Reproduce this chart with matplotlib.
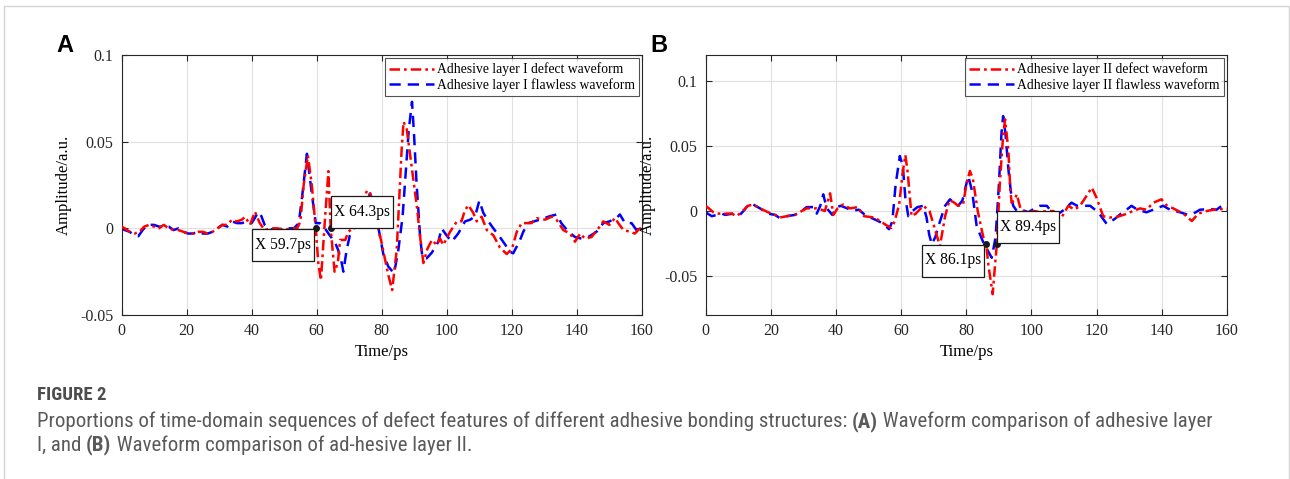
import matplotlib
matplotlib.use("Agg")
import matplotlib.pyplot as plt
from matplotlib import font_manager as fm
from matplotlib import transforms as mtransforms
from matplotlib.patches import Rectangle

# ---------------- data ----------------
tA_def = [0, 1, 2.5, 4, 5.5, 7, 8.5, 10, 11.5, 13, 14.5, 16, 17.5, 19, 20.5, 22, 23.5, 25, 26.5, 28,
          29.5, 31, 32.5, 34, 35.5, 37, 38, 39.5, 41, 42.5, 44, 46, 48, 50, 52, 54, 55, 56, 57.3, 58.5,
          59.7, 60.5, 61.3, 62.5, 63.6, 64.3, 65.5, 66.5, 67.2, 68.8, 69.7, 71.1, 73.6, 75.5, 76.5,
          78.1, 80, 81.9, 83.2, 84.6, 85.4, 86.1, 86.7, 87.7, 89.2, 90.8, 91.8, 92.8, 94, 95.4, 96.9,
          97.9, 98.9, 101, 103, 104.5, 105.5, 106.6, 108.1, 109.2, 110.7, 112.3, 114.3, 116.3, 118.4,
          120, 121.5, 123, 126, 127.6, 130.2, 132.2, 133.7, 135.8, 137.9, 139.4, 141, 142.5, 144.5,
          146.6, 148.1, 150, 151.7, 152.7, 154.3, 156.4, 157.8, 159.4, 160]
aA_def = [0.001, 0.0, -0.002, -0.003, -0.002, 0.001, 0.002, 0.001, 0.0, 0.002, 0.0, -0.001, -0.001,
          -0.002, -0.003, -0.003, -0.002, -0.002, -0.003, -0.002, 0.0, 0.002, 0.002, 0.005, 0.004,
          0.005, 0.0067, 0.002, 0.0096, 0.003, -0.001, 0.0, 0.0, -0.001, 0.0, 0.0, 0.004, 0.025, 0.042,
          0.025, 0.0, -0.02, -0.030, 0.004, 0.033, 0.0, -0.025, -0.02, -0.0067, -0.0067, -0.002, 0.0,
          0.0125, 0.022, 0.020, 0.0067, -0.0087, -0.026, -0.0356, -0.0125, 0.018, 0.045, 0.0615, 0.057,
          0.0355, 0.0125, -0.005, -0.020, -0.012, -0.0067, -0.0096, -0.0058, -0.0096, -0.002, 0.0037,
          0.004, 0.010, 0.0134, 0.009, 0.004, 0.0067, -0.001, -0.004, -0.011, -0.0148, -0.012, -0.002,
          0.003, 0.003, 0.0058, 0.005, 0.0067, 0.005, -0.001, -0.003, -0.0077, -0.003, -0.006, -0.005,
          0.0, 0.004, 0.002, 0.006, 0.003, -0.001, -0.002, -0.003, 0.0, -0.001]

tA_ok = [0, 1, 2.5, 4, 5.2, 6.5, 8, 10, 11.5, 13, 14.5, 16, 17.5, 19, 20.5, 22, 23.5, 25, 26.5, 28,
         29.5, 31, 32.5, 34, 35.5, 37, 38.5, 40, 41, 42, 43, 44, 45, 47, 50, 53, 54.5, 55.5, 57, 58.5,
         59.7, 61, 62.5, 64, 65.6, 66.6, 67.7, 68.2, 69.2, 70.2, 72.3, 74, 76.4, 77.5, 79, 80.5, 82,
         83.8, 85.1, 86.4, 88.3, 89.3, 89.9, 90.7, 91.8, 92.5, 93.8, 95.4, 97.4, 98.4, 99.9, 101.5,
         103.5, 105.6, 107.2, 108.7, 110, 111.2, 112.8, 114.3, 116.3, 117.8, 119.4, 120.4, 122.3,
         123.5, 125, 128.6, 131.7, 133.8, 135.2, 137.4, 139.4, 141.5, 143.5, 146, 148.1, 150, 152.2,
         153.2, 154.8, 156.8, 158.3, 160]
aA_ok = [0.0, -0.001, -0.002, -0.004, -0.0045, -0.001, 0.002, 0.002, 0.001, 0.001, 0.001, -0.001, 0.0,
         -0.002, -0.003, -0.003, -0.002, -0.003, -0.003, -0.002, 0.0, 0.002, 0.001, 0.004, 0.003, 0.003,
         0.004, 0.003, 0.006, 0.0095, 0.007, 0.002, 0.0, -0.001, 0.0, 0.0, 0.003, 0.018, 0.043, 0.02,
         0.003, 0.003, 0.0, -0.004, -0.008, -0.0125, -0.020, -0.025, -0.0125, -0.004, 0.003, 0.011,
         0.020, 0.015, 0.0, -0.015, -0.022, -0.026, -0.0125, 0.0067, 0.0567, 0.073, 0.055, 0.026,
         -0.005, -0.017, -0.0173, -0.014, -0.0077, 0.0, -0.004, -0.0077, -0.003, 0.004, 0.005, 0.007,
         0.016, 0.009, 0.004, 0.0, -0.005, -0.009, -0.0135, -0.0144, -0.0077, -0.002, 0.003, 0.005,
         0.007, 0.008, 0.003, -0.002, -0.005, -0.006, -0.005, -0.002, 0.003, 0.004, 0.006, 0.008, 0.003,
         0.003, -0.001, 0.0]

tB_def = [0, 1, 2.4, 4, 6, 8, 9.5, 11, 13, 14.6, 16.7, 19.2, 21.3, 22.8, 24.9, 27.4, 29.5, 31, 33,
          34.1, 35.5, 36.6, 38.2, 39.2, 40.5, 42.2, 44.3, 46.7, 48.6, 51.8, 53.7, 55.5, 57, 58, 59.4,
          60.5, 61.3, 62, 63.2, 64.5, 66.8, 68.7, 70.5, 71.9, 73.5, 74.8, 76, 77.5, 79, 80, 81.1, 82,
          83.5, 85.2, 86.1, 86.8, 88.1, 88.8, 89.4, 90.3, 91.3, 91.9, 92.9, 93.5, 93.9, 94.7, 95.5, 96.5,
          97.1, 99, 101, 102.6, 104.7, 106.7, 109.3, 111.3, 113.2, 114.9, 117, 118.5, 120, 122, 124.1,
          126.1, 128.7, 131.2, 133.3, 135.3, 137.4, 139.9, 141.6, 143.5, 146.6, 149.2, 151.2, 153.8,
          155.8, 158.4, 160]
aB_def = [0.004, 0.002, -0.001, -0.002, -0.002, -0.002, -0.004, -0.001, 0.004, 0.005, 0.002, -0.001,
          -0.003, -0.005, -0.004, -0.003, 0.0, 0.002, 0.002, 0.002, 0.001, 0.0, 0.0136, -0.003, 0.002,
          0.005, 0.002, 0.003, -0.004, -0.005, -0.008, -0.011, -0.013, -0.008, 0.005, 0.03, 0.043, 0.03,
          -0.004, -0.002, 0.004, 0.0, -0.015, -0.027, -0.004, 0.008, 0.007, 0.004, 0.005, 0.02, 0.0308,
          0.025, 0.0, -0.020, -0.025, -0.042, -0.064, -0.042, -0.025, 0.022, 0.058, 0.0705, 0.047,
          0.017, 0.0064, 0.008, 0.0128, 0.003, 0.0, -0.001, 0.0, -0.001, 0.0, 0.0, -0.0046, 0.004,
          0.001, 0.004, 0.012, 0.018, 0.01, -0.004, -0.005, -0.0046, -0.0026, 0.0, 0.002, 0.001, 0.0064,
          0.009, 0.004, 0.002, -0.002, -0.0077, -0.002, 0.0, 0.001, 0.0015, 0.002]

tB_ok = [0, 1.9, 3.5, 5, 6, 8.5, 10.5, 12, 13.1, 14.6, 16.7, 19.2, 21.3, 22.8, 24.9, 27.4, 29.5, 31,
         33.1, 34.1, 35.2, 36.1, 37.2, 38.9, 40.2, 41.5, 43.5, 45, 47, 49.4, 51.5, 54, 56.3, 57.3, 58.3,
         59.6, 60.5, 61.3, 62.2, 63.5, 65, 66.8, 67.8, 68.6, 69.4, 70.5, 71.4, 73.5, 75, 76.3, 77.5,
         78.8, 80.6, 81.8, 83.2, 85.2, 86.5, 87.8, 89, 90, 90.8, 91.3, 92, 93, 93.9, 94.4, 95.5, 97, 99,
         101, 102.6, 104.7, 106, 107.7, 109.5, 112.3, 114, 118, 120.5, 123.1, 125.6, 127.5, 129.2,
         130.7, 132.5, 135.3, 137.9, 140.4, 142.5, 145.6, 148.1, 149.7, 151.7, 154.8, 156.8, 158.4, 160]
aB_ok = [-0.001, -0.004, -0.003, -0.002, -0.003, -0.002, -0.003, 0.001, 0.005, 0.005, 0.002, -0.002,
         -0.003, -0.0055, -0.004, -0.003, 0.0, 0.003, 0.003, -0.002, 0.004, 0.0128, 0.002, -0.003,
         0.003, 0.004, 0.002, 0.0, 0.001, -0.004, -0.006, -0.009, -0.014, -0.008, 0.02, 0.0423, 0.035,
         0.01, -0.004, 0.0, 0.003, 0.004, -0.005, -0.018, -0.0256, -0.02, -0.012, 0.004, 0.009, 0.006,
         0.004, 0.008, 0.027, 0.015, -0.012, -0.024, -0.03, -0.036, -0.02, 0.02, 0.06, 0.073, 0.06, 0.03,
         0.01, 0.004, 0.0, 0.001, -0.001, 0.002, 0.004, 0.004, 0.0, -0.003, 0.0, 0.0064, 0.004, 0.004,
         -0.001, -0.010, -0.006, -0.002, 0.001, 0.004, 0.001, -0.001, 0.0015, 0.004, 0.001, -0.001,
         -0.003, -0.002, 0.001, 0.0015, 0.001, 0.004, 0.001]

xticks = [0, 20, 40, 60, 80, 100, 120, 140, 160]
yticksA = [-0.05, 0, 0.05, 0.1]
yticksB = [-0.05, 0, 0.05, 0.1]
ytlA = ["-0.05", "0", "0.05", "0.1"]
ytlB = ["-0.05", "0", "0.05", "0.1"]
legA = ["Adhesive layer I defect waveform", "Adhesive layer I flawless waveform"]
legB = ["Adhesive layer II defect waveform", "Adhesive layer II flawless waveform"]
tipsA = [(59.7, 0.0, "X 59.7ps", "left"), (64.3, 0.0, "X 64.3ps", "right")]
tipsB = [(86.1, -0.025, "X 86.1ps", "left"), (89.4, -0.025, "X 89.4ps", "right")]

# ---------------- style ----------------
plt.rcParams['axes.unicode_minus'] = False
SERIF = 'Liberation Serif'
W, H = 1290, 479
DPI = 100
fig = plt.figure(figsize=(W / DPI, H / DPI), dpi=DPI)


def pick(names):
    for n in names:
        try:
            fm.findfont(fm.FontProperties(family=n), fallback_to_default=False)
            return n
        except Exception:
            pass
    return 'DejaVu Sans'


def datatip(ax, x, y, txt, side):
    ax.plot([x], [y], 'o', color='#1a1a1a', ms=4, zorder=8)
    # origin at the data point, units in inches
    tr = fig.dpi_scale_trans + mtransforms.ScaledTranslation(x, y, ax.transData)
    bw, bh = 62 / DPI, 32 / DPI
    if side == 'left':
        x0, y0 = -bw - 2 / DPI, -bh - 1 / DPI
    else:
        x0, y0 = 0.5 / DPI, 0.5 / DPI
    ax.add_patch(Rectangle((x0, y0), bw, bh, transform=tr, fc='white', ec='#1a1a1a',
                           lw=0.9, zorder=9, clip_on=False))
    ax.text(x0 + bw / 2, y0 + bh / 2, txt, transform=tr, ha='center', va='center',
            fontfamily=SERIF, fontsize=11.2, zorder=10)


def panel(rect, td, ad, to, ao, ylim, yt, ytl, leg, tips, letter, lx):
    ax = fig.add_axes(rect)
    ax.plot(td, ad, color='#ff0000', lw=1.8, dashes=(4.2, 1.6, 1.1, 1.6), label=leg[0], zorder=3)
    ax.plot(to, ao, color='#0000ff', lw=1.8, dashes=(4.5, 2.8), label=leg[1], zorder=2)
    ax.set_xlim(0, 160)
    ax.set_ylim(*ylim)
    ax.set_xticks(xticks)
    ax.set_xticklabels([str(v) for v in xticks], fontfamily=SERIF, fontsize=11.5)
    ax.set_yticks(yt)
    ax.set_yticklabels(ytl, fontfamily=SERIF, fontsize=11.5)
    ax.tick_params(direction='in', length=4, width=0.8, top=True, right=True,
                   colors='#262626', pad=6)
    ax.grid(True, color='#e0e0e0', lw=0.8, zorder=0)
    for s in ax.spines.values():
        s.set_color('#262626')
        s.set_linewidth(0.8)
    ax.set_xlabel('Time/ps', fontfamily=SERIF, fontsize=12, labelpad=3)
    ax.set_ylabel('Amplitude/a.u.', fontfamily=SERIF, fontsize=12, labelpad=6)
    lg = ax.legend(loc='upper right', prop={'family': SERIF, 'size': 9.8}, frameon=True,
                   fancybox=False, edgecolor='#262626', borderaxespad=0.25, handlelength=3.3,
                   borderpad=0.3, labelspacing=0.15, handletextpad=0.2)
    lg.get_frame().set_linewidth(0.8)
    lg.set_zorder(11)
    for x, y, txt, side in tips:
        datatip(ax, x, y, txt, side)
    fig.text(lx / W, 1 - 45 / H, letter, fontsize=17, fontweight='bold',
             fontfamily='Liberation Sans', va='center', ha='left')
    return ax


bottom = 1 - 315 / H
height = (315 - 55) / H
panel([121.5 / W, bottom, (642 - 121.5) / W, height], tA_def, aA_def, tA_ok, aA_ok,
      (-0.05, 0.1), yticksA, ytlA, legA, tipsA, 'A', 56)
panel([705.6 / W, bottom, (1227 - 705.6) / W, height], tB_def, aB_def, tB_ok, aB_ok,
      (-0.08, 0.12), yticksB, ytlB, legB, tipsB, 'B', 650)

# figure frame
fig.add_artist(Rectangle((4 / W, -0.1), (1288.5 - 4) / W, 1 - 6 / H + 0.1, transform=fig.transFigure,
                         fill=False, ec='#d4d4d4', lw=1.0))

# caption
CAP = pick(['Liberation Sans Narrow', 'Roboto Condensed', 'Open Sans Condensed', 'Lato', 'Open Sans'])
fig.text(37 / W, 1 - 395 / H, 'FIGURE 2', fontsize=13.5, fontfamily=CAP, color='#4d4d4d',
         va='center', ha='left', fontweight='bold')

line1 = [("Proportions of time-domain sequences of defect features of different adhesive bonding structures: ", 'normal'),
         ("(A)", 'bold'),
         (" Waveform comparison of adhesive layer", 'normal')]
line2 = [("I, and ", 'normal'), ("(B)", 'bold'), (" Waveform comparison of ad-hesive layer II.", 'normal')]

renderer = fig.canvas.get_renderer()


def draw_line(parts, y, size):
    x = 37
    for txt, wt in parts:
        t = fig.text(x / W, 1 - y / H, txt, fontsize=size, fontfamily=CAP, color='#5a5a5a',
                     fontweight=wt, va='center', ha='left')
        bb = t.get_window_extent(renderer)
        x += bb.width
    return x


size = 13.0
probe = fig.text(0, 0, ''.join(p[0] for p in line1), fontsize=size, fontfamily=CAP)
wpx = probe.get_window_extent(renderer).width
probe.remove()
size = min(15.0, size * (1176 / wpx))
draw_line(line1, 421.5, size)
draw_line(line2, 445, size)

fig.savefig('out.png', dpi=DPI)
